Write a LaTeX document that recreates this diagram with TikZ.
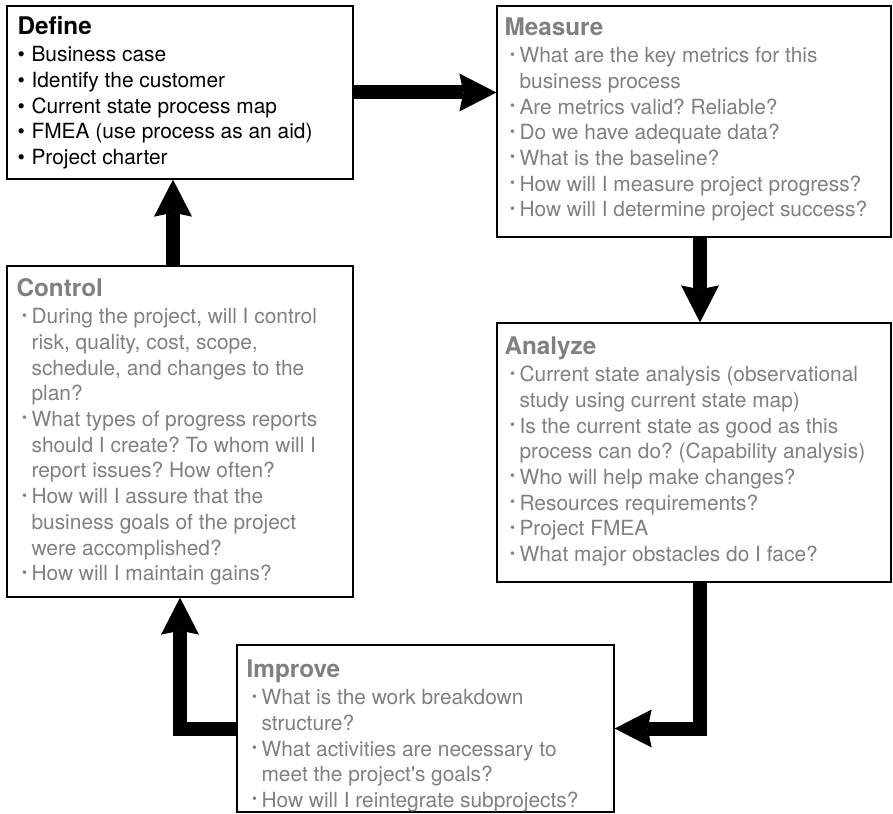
\documentclass[tikz,border=0pt]{standalone}
\usepackage{fontspec}
\setmainfont{TeX Gyre Heros}
\usetikzlibrary{arrows.meta}
\definecolor{txtgray}{RGB}{128,128,128}
\frenchspacing
% bullets and hanging indent for the item lists
\newcommand\bigdot{\makebox[14pt][l]{\textbullet}}
\newcommand\smalldot{\makebox[15pt][l]{\hspace{5.5pt}\raisebox{3.6pt}{\fontsize{14}{14}\selectfont\textbullet}}}
\newcommand\wrapind{\hspace*{15pt}}
\newcommand\boxtitle[1]{\rule{0pt}{20pt}{\fontsize{24.3}{25.7}\selectfont\bfseries #1}\\[1.5pt]}
\begin{document}
\begin{tikzpicture}[x=1pt,y=-1pt,
  stagebox/.style={draw=black,line width=1.3pt,fill=white,inner sep=0pt},
  stagetext/.style={anchor=north west,inner sep=0pt,align=left,
    font=\fontsize{20.9}{25.7}\selectfont\frenchspacing},
  graytext/.style={stagetext,text=txtgray},
  flow/.style={line width=14pt,
    -{Stealth[length=37pt,width=38pt,inset=4pt,line width=0pt]}}]
\useasboundingbox (0,0) rectangle (893,813);

% the five DMAIC stages
\node[stagebox,minimum width=346pt,minimum height=173pt] (define)  at (180,92.5)   {};
\node[stagebox,minimum width=394pt,minimum height=231pt] (measure) at (694,121.5)  {};
\node[stagebox,minimum width=346pt,minimum height=331pt] (control) at (180,431.5)  {};
\node[stagebox,minimum width=394pt,minimum height=259pt] (analyze) at (694,452.5)  {};
\node[stagebox,minimum width=377pt,minimum height=167pt] (improve) at (425.5,728.5) {};

% stage contents
\node[stagetext] (definetext) at ([shift={(11,9)}]define.north west) {\boxtitle{Define}
\bigdot Business case\\
\bigdot Identify the customer\\
\bigdot Current state process map\\
\bigdot FMEA (use process as an aid)\\
\bigdot Project charter};

\node[graytext] (measuretext) at ([shift={(8,10)}]measure.north west) {\boxtitle{Measure}
\smalldot What are the key metrics for this\\
\wrapind business process\\
\smalldot Are metrics valid? Reliable?\\
\smalldot Do we have adequate data?\\
\smalldot What is the baseline?\\
\smalldot How will I measure project progress?\\
\smalldot How will I determine project success?};

\node[graytext] (controltext) at ([shift={(10,11)}]control.north west) {\boxtitle{Control}
\smalldot During the project, will I control\\
\wrapind risk, quality, cost, scope,\\
\wrapind schedule, and changes to the\\
\wrapind plan?\\
\smalldot What types of progress reports\\
\wrapind should I create? To whom will I\\
\wrapind report issues? How often?\\
\smalldot How will I assure that the\\
\wrapind business goals of the project\\
\wrapind were accomplished?\\
\smalldot How will I maintain gains?};

\node[graytext] (analyzetext) at ([shift={(8,12)}]analyze.north west) {\boxtitle{Analyze}
\smalldot Current state analysis (observational\\
\wrapind study using current state map)\\
\smalldot Is the current state as good as this\\
\wrapind process can do? (Capability analysis)\\
\smalldot Who will help make changes?\\
\smalldot Resources requirements?\\
\smalldot Project FMEA\\
\smalldot What major obstacles do I face?};

\node[graytext] (improvetext) at ([shift={(10,13)}]improve.north west) {\boxtitle{Improve}
\smalldot What is the work breakdown\\
\wrapind structure?\\
\smalldot What activities are necessary to\\
\wrapind meet the project\textquotesingle s goals?\\
\smalldot How will I reintegrate subprojects?};

% cycle arrows
\draw[flow] (define.east) -- (define.east -| measure.west);
\draw[flow] ([xshift=6pt]measure.south) -- ([xshift=6pt]analyze.north);
\draw[flow] ([xshift=6pt]analyze.south) |- (improve.east);
\draw[flow] (improve.west) -| (control.south);
\draw[flow] ([xshift=-7pt]control.north) -- ([xshift=-7pt]define.south);
\end{tikzpicture}
\end{document}
